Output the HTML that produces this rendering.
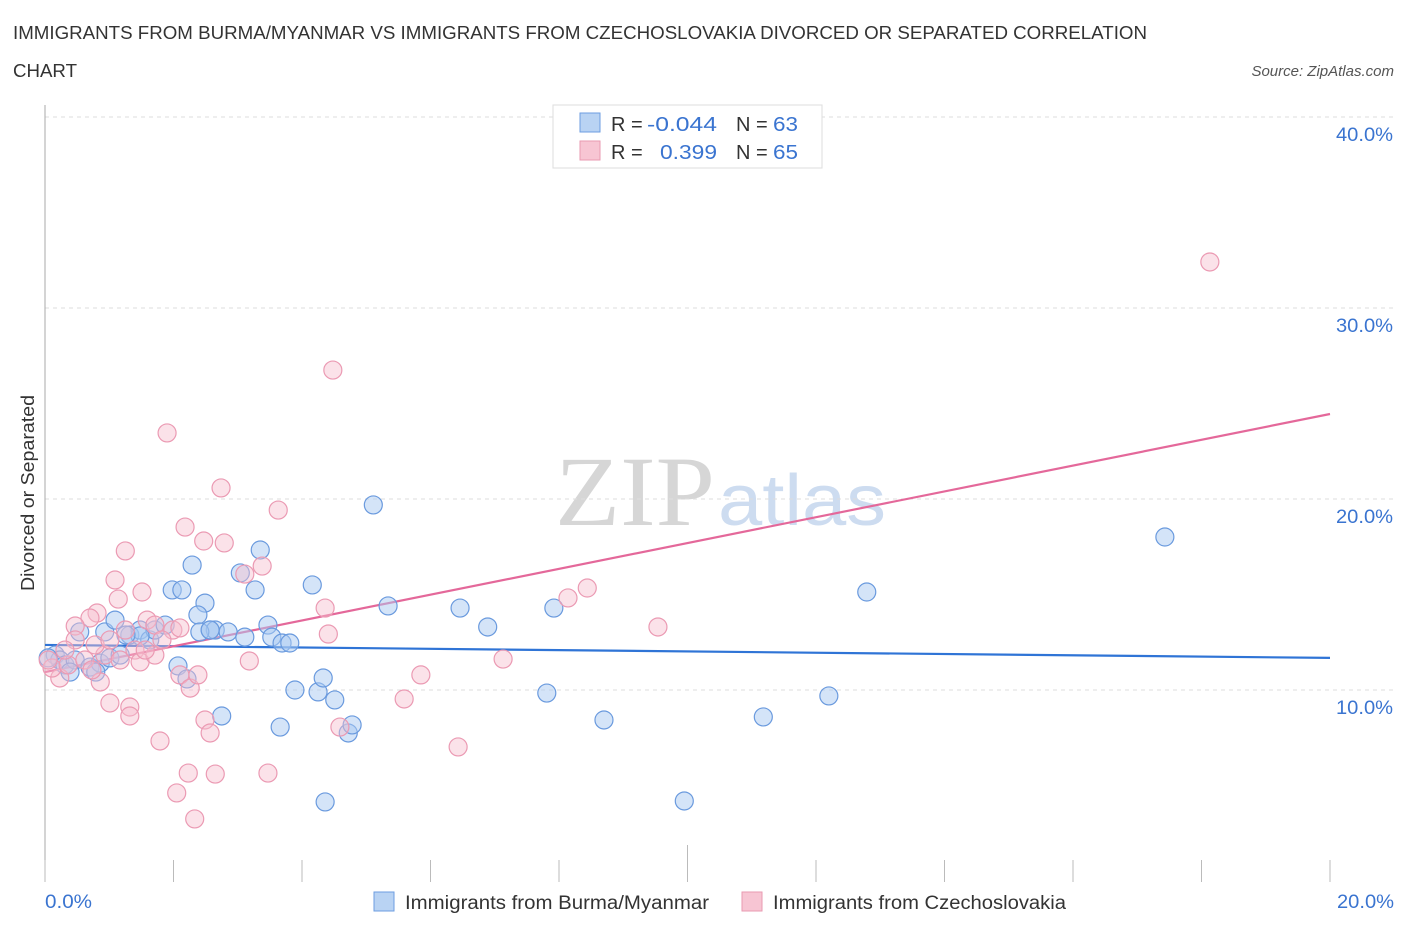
<!DOCTYPE html>
<html><head><meta charset="utf-8"><style>
body{margin:0;background:#fff;font-family:"Liberation Sans",sans-serif;}
svg text{font-family:"Liberation Sans",sans-serif;}
</style></head><body>
<svg id="chart" width="1406" height="930" xmlns="http://www.w3.org/2000/svg">
<text x="13" y="39" font-size="18" fill="#333" textLength="1134" lengthAdjust="spacingAndGlyphs">IMMIGRANTS FROM BURMA/MYANMAR VS IMMIGRANTS FROM CZECHOSLOVAKIA DIVORCED OR SEPARATED CORRELATION</text>
<text x="13" y="77" font-size="18" fill="#333" textLength="64" lengthAdjust="spacingAndGlyphs">CHART</text>
<text x="1394" y="76" font-size="15" font-style="italic" fill="#555" text-anchor="end">Source: ZipAtlas.com</text>
<g>
<text x="555" y="525" font-size="100" style="font-family:'Liberation Serif',serif" fill="#d6d6d6" textLength="160" lengthAdjust="spacingAndGlyphs">ZIP</text>
<text x="718" y="525" font-size="72" fill="#cddcf0" textLength="168" lengthAdjust="spacingAndGlyphs">atlas</text>
</g>
<g id="grid"></g>
<line x1="45" y1="105" x2="45" y2="882" stroke="#aaa" stroke-width="1"/>
<g id="ticks"></g>
<g id="trend"></g>
<g id="points"></g>
<text transform="translate(34,493) rotate(-90)" font-size="18" fill="#333" text-anchor="middle" textLength="196" lengthAdjust="spacingAndGlyphs">Divorced or Separated</text>
<text x="45" y="908" font-size="19" fill="#3a74d0" textLength="47" lengthAdjust="spacingAndGlyphs">0.0%</text>
<text x="1337" y="908" font-size="19" fill="#3a74d0" textLength="57" lengthAdjust="spacingAndGlyphs">20.0%</text>
<g>
<rect x="553" y="105" width="269" height="63" fill="#fff" stroke="#ddd"/>
<rect x="580" y="113" width="20" height="19" fill="#b9d3f3" stroke="#6d9ee0"/>
<rect x="580" y="141" width="20" height="19" fill="#f7c5d3" stroke="#e89ab2"/>
<text x="611" y="131" font-size="20" fill="#333">R =</text>
<text x="647" y="131" font-size="20" fill="#3a74d0" textLength="70" lengthAdjust="spacingAndGlyphs">-0.044</text>
<text x="736" y="131" font-size="20" fill="#333">N =</text>
<text x="773" y="131" font-size="20" fill="#3a74d0" textLength="25" lengthAdjust="spacingAndGlyphs">63</text>
<text x="611" y="159" font-size="20" fill="#333">R =</text>
<text x="660" y="159" font-size="20" fill="#3a74d0" textLength="57" lengthAdjust="spacingAndGlyphs">0.399</text>
<text x="736" y="159" font-size="20" fill="#333">N =</text>
<text x="773" y="159" font-size="20" fill="#3a74d0" textLength="25" lengthAdjust="spacingAndGlyphs">65</text>
</g>
<g>
<rect x="374" y="892" width="20" height="19" fill="#b9d3f3" stroke="#6d9ee0"/>
<text x="405" y="909" font-size="19" fill="#333" textLength="304" lengthAdjust="spacingAndGlyphs">Immigrants from Burma/Myanmar</text>
<rect x="742" y="892" width="20" height="19" fill="#f7c5d3" stroke="#e89ab2"/>
<text x="773" y="909" font-size="19" fill="#333" textLength="293" lengthAdjust="spacingAndGlyphs">Immigrants from Czechoslovakia</text>
</g>
</svg>
<script>
const yTicks=[10,20,30,40];
const yTickLabels=["10.0%","20.0%","30.0%","40.0%"];
const xTicks=[0,2,4,6,8,10,12,14,16,18,20];
const blueX=[.16,.23,.31,.47,.70,.86,1.01,1.17,.93,1.09,1.32,1.48,1.63,1.71,1.87,1.98,2.13,2.29,2.49,2.57,2.65,2.85,3.04,3.11,3.27,3.35,3.47,3.53,3.69,3.81,3.66,3.89,4.16,4.25,4.33,4.51,4.72,4.78,4.36,5.11,5.34,6.46,6.89,7.81,7.92,8.70,9.95,11.18,12.20,12.79,17.43,2.75,2.38,2.07,2.21,1.48,1.26,.54,.05,.39,.79,2.41,2.57];
const blueY=[11.83,11.57,11.31,11.57,11.20,11.41,11.68,11.83,13.04,13.66,12.88,13.14,12.62,13.14,13.40,15.24,15.24,16.54,14.55,13.14,13.14,13.04,16.13,12.77,15.24,17.33,13.40,12.77,12.46,12.46,8.06,10.0,15.50,9.90,10.63,9.48,7.75,8.17,4.14,19.69,14.40,14.29,13.30,9.84,14.29,8.43,4.19,8.59,9.69,15.13,18.01,8.64,13.93,11.26,10.58,12.83,12.88,13.04,11.68,10.94,10.94,13.04,13.14];
const pinkX=[18.13,4.48,1.90,2.74,2.18,3.63,2.47,2.79,1.25,3.11,3.38,1.09,1.51,1.14,.81,.70,.47,1.59,1.99,1.71,4.36,4.41,3.18,5.85,7.13,8.14,8.44,9.54,2.10,2.26,2.38,1.01,1.32,1.32,1.79,2.49,2.57,4.59,5.59,6.43,2.23,2.65,3.47,2.05,2.33,.86,.23,.11,.36,.62,.93,1.17,1.40,1.48,1.71,1.82,2.10,.78,1.25,.47,.31,.05,1.01,.73,1.56];
const pinkY=[32.41,26.75,23.46,20.58,18.53,19.42,17.80,17.70,17.28,16.07,16.49,15.76,15.13,14.76,14.03,13.77,13.35,13.66,13.14,13.40,14.29,12.93,11.52,10.79,11.62,14.82,15.34,13.30,10.79,10.10,10.79,9.32,9.11,8.64,7.33,8.43,7.75,8.06,9.53,7.02,5.65,5.60,5.65,4.61,3.25,10.42,10.63,11.15,11.31,11.57,11.83,11.57,12.09,11.47,11.83,12.62,13.25,12.36,13.14,12.62,12.09,11.57,12.62,11.05,12.09];
const blueTrend=[12.36,11.68];
const pinkTrend=[10.94,24.45];
const trendX=[0,20];

const NS="http://www.w3.org/2000/svg";
const X0=45,X1=1330,Y0=881,PXY=19.1;
function sx(v){return X0+(X1-X0)*v/20;}
function sy(v){return Y0-v*PXY;}
function mk(tag,attrs,parent){const e=document.createElementNS(NS,tag);for(const k in attrs)e.setAttribute(k,attrs[k]);parent.appendChild(e);return e;}
const grid=document.getElementById('grid');
yTicks.forEach((t,i)=>{
  const l=mk('line',{x1:X0,x2:X1+63,y1:sy(t),y2:sy(t),stroke:'#ddd','stroke-dasharray':'4,4'},grid);
  
  
  const tx=mk('text',{x:1393,y:sy(t)+24,'font-size':19,fill:'#3a74d0','text-anchor':'end',textLength:57,lengthAdjust:'spacingAndGlyphs'},grid);
  tx.textContent=yTickLabels[i];
  
  
});
const ticks=document.getElementById('ticks');
xTicks.forEach(t=>{
  const top=(t===10)?845:860;
  const l=mk('line',{x1:sx(t),x2:sx(t),y1:top,y2:882,stroke:'#bbb'},ticks);
  
  
});
const pts=document.getElementById('points');
blueX.forEach((v,i)=>{
  const c=mk('circle',{cx:sx(v),cy:sy(blueY[i]),r:9,fill:'rgba(170,202,242,0.5)',stroke:'#6a9ade','stroke-width':1.2},pts);
  
  
});
pinkX.forEach((v,i)=>{
  const c=mk('circle',{cx:sx(v),cy:sy(pinkY[i]),r:9,fill:'rgba(246,190,207,0.45)',stroke:'#eb9ab3','stroke-width':1.2},pts);
  
  
});
const tr=document.getElementById('trend');
const bl=mk('line',{x1:sx(trendX[0]),y1:sy(blueTrend[0]),x2:sx(trendX[1]),y2:sy(blueTrend[1]),stroke:'#2f74d6','stroke-width':2.2},tr);


const pl=mk('line',{x1:sx(trendX[0]),y1:sy(pinkTrend[0]),x2:sx(trendX[1]),y2:sy(pinkTrend[1]),stroke:'#e4689a','stroke-width':2.2},tr);


</script>
</body></html>
